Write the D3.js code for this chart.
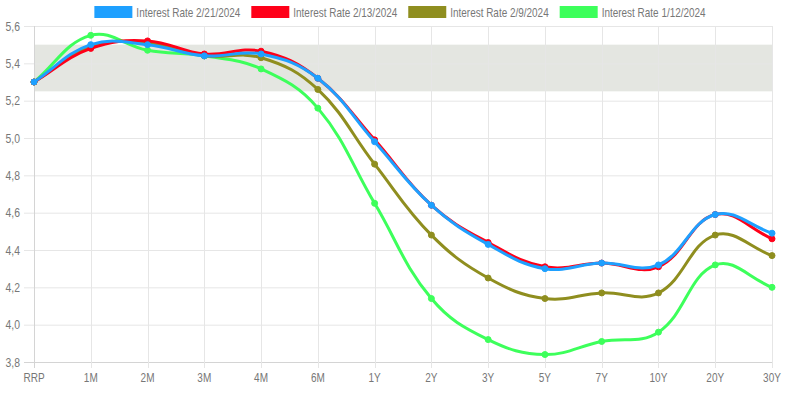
<!DOCTYPE html>
<html>
<head>
<meta charset="utf-8">
<script src="https://cdn.jsdelivr.net/npm/d3@7"></script>
<style>
  html, body { margin: 0; padding: 0; background: #fff; }
  svg { display: block; font-family: "Liberation Sans", Arial, sans-serif; }
</style>
</head>
<body>
<svg id="chart"></svg>
<script>
const width = 800;
const height = 393;

const categories = ["RRP", "1M", "2M", "3M", "4M", "6M", "1Y", "2Y", "3Y", "5Y", "7Y", "10Y", "20Y", "30Y"];
const yTicks = [3.8, 4.0, 4.2, 4.4, 4.6, 4.8, 5.0, 5.2, 5.4, 5.6];
const band = [5.25, 5.5];

const rate0221 = [5.30, 5.50, 5.50, 5.44, 5.45, 5.32, 4.98, 4.64, 4.43, 4.30, 4.33, 4.32, 4.59, 4.49];
const rate0213 = [5.30, 5.48, 5.52, 5.45, 5.465, 5.32, 4.99, 4.64, 4.44, 4.31, 4.33, 4.31, 4.59, 4.46];
const rate0209 = [5.30, 5.49, 5.51, 5.44, 5.43, 5.26, 4.86, 4.48, 4.25, 4.14, 4.17, 4.17, 4.48, 4.37];
const rate0112 = [5.30, 5.55, 5.47, 5.44, 5.37, 5.16, 4.65, 4.14, 3.92, 3.84, 3.91, 3.96, 4.32, 4.20];

const series = [
    { label: "Interest Rate 2/21/2024", color: "#1ea0ff", values: rate0221 },
    { label: "Interest Rate 2/13/2024", color: "#ff0019", values: rate0213 },
    { label: "Interest Rate 2/9/2024", color: "#8f8e1f", values: rate0209 },
    { label: "Interest Rate 1/12/2024", color: "#3dff5b", values: rate0112 }
];

const svg = d3.select("#chart")
    .attr("width", width)
    .attr("height", height);

const x = d3.scalePoint()
    .domain(categories)
    .range([34, 772]);

const y = d3.scaleLinear()
    .domain([3.8, 5.6])
    .range([362, 26]);

const fmt = v => d3.format(".1f")(v).replace(".", ",");

// the reference font is condensed; squeeze the glyphs horizontally
function squeeze(sel, k) {
    sel.each(function() {
        const w = this.getComputedTextLength();
        d3.select(this)
            .attr("textLength", w * k)
            .attr("lengthAdjust", "spacingAndGlyphs");
    });
}

// shaded band
svg.append("rect")
    .attr("x", x.range()[0])
    .attr("y", y(band[1]))
    .attr("width", x.range()[1] - x.range()[0])
    .attr("height", y(band[0]) - y(band[1]))
    .attr("fill", "#e4e6e1");

// grid
svg.append("g")
    .selectAll("line")
    .data(yTicks)
    .join("line")
    .attr("x1", 24)
    .attr("x2", 772)
    .attr("y1", d => y(d) + 0.5)
    .attr("y2", d => y(d) + 0.5)
    .attr("stroke", d => d === 3.8 ? "#d4d4d4" : "#e6e6e6");

svg.append("g")
    .selectAll("line")
    .data(categories)
    .join("line")
    .attr("x1", d => Math.round(x(d)) + 0.5)
    .attr("x2", d => Math.round(x(d)) + 0.5)
    .attr("y1", 26)
    .attr("y2", 368)
    .attr("stroke", (d, i) => i === 0 ? "#d4d4d4" : "#e6e6e6");

// axis labels
svg.append("g")
    .selectAll("text")
    .data(yTicks)
    .join("text")
    .attr("x", 20)
    .attr("y", d => y(d) + 4.5)
    .attr("text-anchor", "end")
    .attr("font-size", 13)
    .attr("fill", "#777")
    .text(fmt)
    .call(squeeze, 0.8);

svg.append("g")
    .selectAll("text")
    .data(categories)
    .join("text")
    .attr("x", d => x(d))
    .attr("y", 382)
    .attr("text-anchor", "middle")
    .attr("font-size", 13)
    .attr("fill", "#777")
    .text(d => d)
    .call(squeeze, 0.77);

// Chart.js style bezier (tension 0.4)
function splinePath(pts, t) {
    const cps = pts.map((cur, i) => {
        const prev = pts[i - 1] || cur;
        const next = pts[i + 1] || cur;
        const d01 = Math.hypot(cur[0] - prev[0], cur[1] - prev[1]);
        const d12 = Math.hypot(next[0] - cur[0], next[1] - cur[1]);
        let s01 = d01 / (d01 + d12);
        let s12 = d12 / (d01 + d12);
        if (isNaN(s01)) s01 = 0;
        if (isNaN(s12)) s12 = 0;
        const fa = t * s01, fb = t * s12;
        return {
            prev: [cur[0] - fa * (next[0] - prev[0]), cur[1] - fa * (next[1] - prev[1])],
            next: [cur[0] + fb * (next[0] - prev[0]), cur[1] + fb * (next[1] - prev[1])]
        };
    });
    const p = d3.path();
    p.moveTo(pts[0][0], pts[0][1]);
    for (let i = 1; i < pts.length; i++) {
        p.bezierCurveTo(cps[i - 1].next[0], cps[i - 1].next[1],
            cps[i].prev[0], cps[i].prev[1], pts[i][0], pts[i][1]);
    }
    return p.toString();
}

// draw last dataset first so the first one is on top
const lines = svg.append("g");
series.slice().reverse().forEach(s => {
    const pts = s.values.map((v, i) => [x(categories[i]), y(v)]);
    const g = lines.append("g");
    g.append("path")
        .attr("d", splinePath(pts, 0.4))
        .attr("fill", "none")
        .attr("stroke", s.color)
        .attr("stroke-width", 3);
    g.selectAll("circle")
        .data(pts)
        .join("circle")
        .attr("cx", d => d[0])
        .attr("cy", d => d[1])
        .attr("r", 3)
        .attr("fill", s.color)
        .attr("stroke", s.color)
        .attr("stroke-width", 1);
});

// legend
const legend = svg.append("g");
const items = legend.selectAll("g")
    .data(series)
    .join("g");
items.append("rect")
    .attr("width", 38)
    .attr("height", 12)
    .attr("y", 6)
    .attr("fill", d => d.color);
items.append("text")
    .attr("x", 42)
    .attr("y", 16.5)
    .attr("font-size", 13)
    .attr("fill", "#777")
    .text(d => d.label)
    .call(squeeze, 0.765);

let offsets = [];
let total = 0;
items.each(function() {
    const w = 42 + +this.querySelector("text").getAttribute("textLength");
    offsets.push(total);
    total += w + 11;
});
total -= 11;
const startX = (width - total) / 2;
items.attr("transform", (d, i) => `translate(${startX + offsets[i]},0)`);
</script>
</body>
</html>
